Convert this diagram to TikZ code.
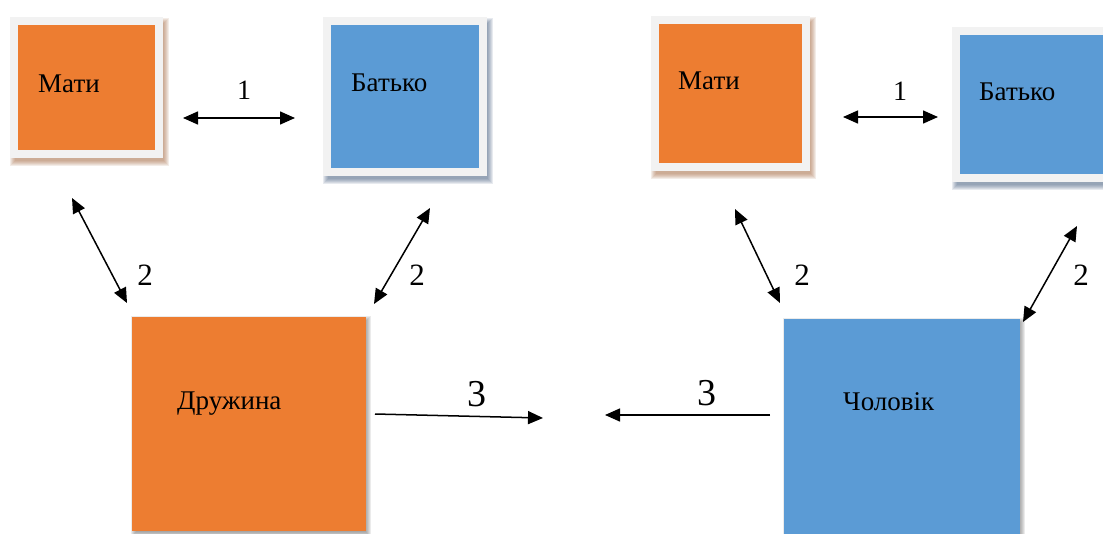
\documentclass[tikz,border=0pt]{standalone}
\usepackage{fontspec}
\setmainfont{Liberation Serif}
\newfontfamily\serifF{Liberation Serif}
\usetikzlibrary{arrows.meta,calc,backgrounds}
\definecolor{orangeC}{HTML}{ED7D31}
\definecolor{blueC}{HTML}{5B9BD5}
\definecolor{frameC}{HTML}{F2F2F2}
\definecolor{shBrown}{RGB}{160,100,60}
\definecolor{shBlue}{RGB}{60,85,120}
\definecolor{shGray}{RGB}{90,90,90}
\tikzset{
  framebox/.style={draw=frameC,line width=8pt,inner sep=0pt},
  bigbox/.style={draw=none,inner sep=0pt},
  boxtext/.style={font=\serifF\fontsize{27}{32}\selectfont,anchor=base west,inner sep=0pt},
  lblone/.style={font=\serifF\fontsize{28}{32}\selectfont,anchor=base,inner sep=0pt},
  lbltwo/.style={font=\serifF\fontsize{31}{34}\selectfont,anchor=base,inner sep=0pt},
  lblthree/.style={font=\serifF\fontsize{38}{40}\selectfont,anchor=base,inner sep=0pt},
  dbl/.style={line width=1.5pt,{Triangle[length=15pt,width=13pt]}-{Triangle[length=15pt,width=13pt]}},
  sgl/.style={line width=1.5pt,-{Triangle[length=15pt,width=13pt]}}
}
\newcommand{\myshadow}[4]{% node, color, dx, dy
  \foreach \e in {5,4,3,2,1,0}{
    \fill[#2,opacity=0.12] ($(#1.north west)+(#3+\e-2,#4+\e-2)$) rectangle ($(#1.south east)+(#3-\e+4,#4-\e+5)$);
  }
}
\begin{document}
\begin{tikzpicture}[x=1pt,y=-1pt]
\useasboundingbox (0,0) rectangle (1103,533);
\clip (0,0) rectangle (1103,533);
% boxes
\node[framebox,fill=orangeC,minimum width=145pt,minimum height=133pt] (matiL) at (86.5,87.5) {};
\node[framebox,fill=blueC,minimum width=156pt,minimum height=151pt] (batkoL) at (405,96.5) {};
\node[framebox,fill=orangeC,minimum width=151pt,minimum height=147pt] (matiR) at (730.5,93.5) {};
\node[framebox,fill=blueC,minimum width=160pt,minimum height=147.5pt] (batkoR) at (1035.5,104.25) {};
\node[bigbox,fill=orangeC,minimum width=234pt,minimum height=214pt] (wife) at (249,424) {};
\node[bigbox,fill=blueC,minimum width=236pt,minimum height=222pt] (husband) at (902,430) {};
\begin{scope}[on background layer]
  \myshadow{matiL}{shBrown}{2}{3}
  \myshadow{batkoL}{shBlue}{2}{3}
  \myshadow{matiR}{shBrown}{2}{3}
  \myshadow{batkoR}{shBlue}{2}{3}
  \myshadow{wife}{shGray}{1}{1}
  \myshadow{husband}{shGray}{1}{1}
\end{scope}
% texts
\node[boxtext] (tmatiL) at (38,92) {Мати};
\node[boxtext] (tbatkoL) at (351,91) {Батько};
\node[boxtext] (tmatiR) at (678,89) {Мати};
\node[boxtext] (tbatkoR) at (979,100) {Батько};
\node[boxtext] (twife) at (177,409) {Дружина};
\node[boxtext] (thusband) at (843,410) {Чоловік};
% connector end points
\coordinate (a1s) at (183,118); \coordinate (a1e) at (295,118);
\coordinate (b1s) at (843,117); \coordinate (b1e) at (938,117);
\coordinate (a2s) at (72,198);  \coordinate (a2e) at (127,303);
\coordinate (a3s) at (430,208); \coordinate (a3e) at (374,304);
\coordinate (b2s) at (735,209); \coordinate (b2e) at (780,303);
\coordinate (b3s) at (1077,226); \coordinate (b3e) at (1023,322);
\coordinate (c1s) at (375,414); \coordinate (c1e) at (543,418);
\coordinate (c2s) at (770,415); \coordinate (c2e) at (605,415);
\draw[dbl] (a1s) -- (a1e);
\draw[dbl] (b1s) -- (b1e);
\draw[dbl] (a2s) -- (a2e);
\draw[dbl] (a3s) -- (a3e);
\draw[dbl] (b2s) -- (b2e);
\draw[dbl] (b3s) -- (b3e);
\draw[sgl] (c1s) -- (c1e);
\draw[sgl] (c2s) -- (c2e);
% labels
\node[lblone] (l1a) at (244,99) {1};
\node[lblone] (l1b) at (900,100) {1};
\node[lbltwo] (l2a) at (145,285) {2};
\node[lbltwo] (l2b) at (417,285) {2};
\node[lbltwo] (l2c) at (802,285) {2};
\node[lbltwo] (l2d) at (1081,285) {2};
\node[lblthree] (l3a) at (477,406) {3};
\node[lblthree] (l3b) at (707,405) {3};
\end{tikzpicture}
\end{document}
